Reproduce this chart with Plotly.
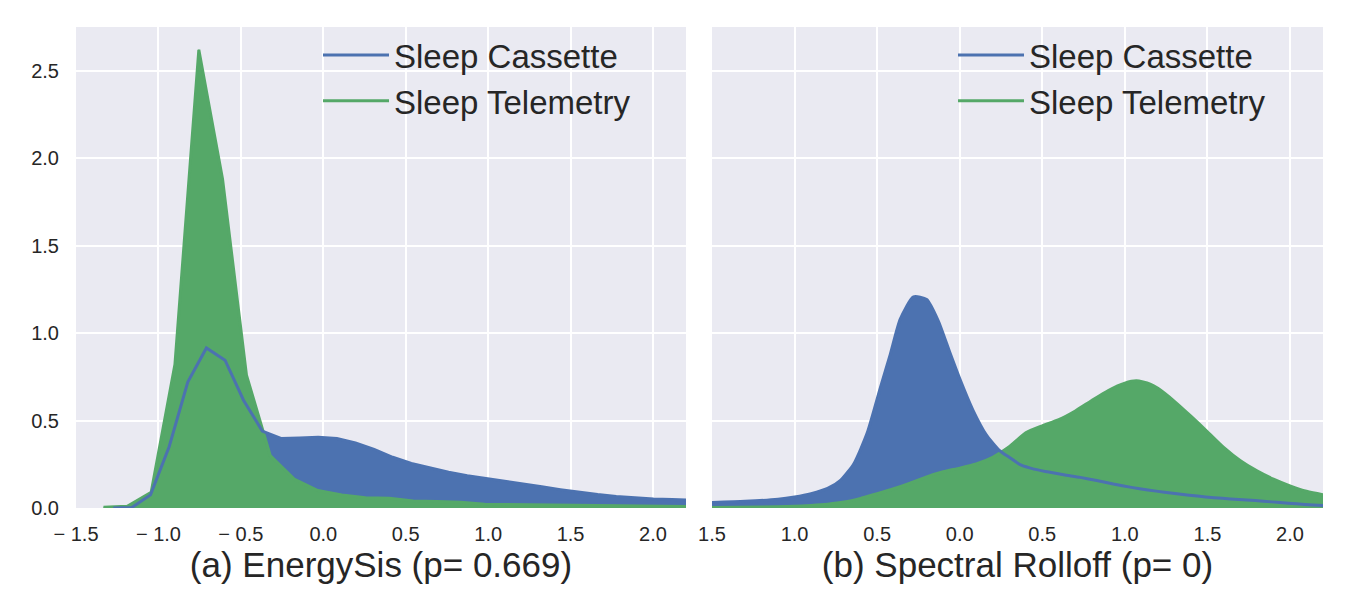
import plotly.graph_objects as go

# ---------------- data ----------------
series_names = ["Sleep Cassette", "Sleep Telemetry"]
panel_titles = ["(a) EnergySis (p= 0.669)", "(b) Spectral Rolloff (p= 0)"]

# panel (a) EnergySis
a_cassette_x = [-1.274, -1.161, -1.048, -0.935, -0.822, -0.709, -0.596, -0.483, -0.370,
                -0.257, -0.144, -0.031, 0.082, 0.195, 0.308, 0.421, 0.534, 0.647, 0.760,
                0.873, 0.986, 1.099, 1.212, 1.325, 1.438, 1.551, 1.664, 1.777, 1.890,
                2.003, 2.116, 2.229]
a_cassette_y = [0.0, 0.003, 0.075, 0.35, 0.72, 0.915, 0.845, 0.615, 0.44,
                0.398, 0.40, 0.404, 0.398, 0.372, 0.335, 0.29, 0.255, 0.228, 0.205,
                0.185, 0.168, 0.152, 0.137, 0.121, 0.105, 0.09, 0.077, 0.066, 0.058,
                0.052, 0.048, 0.045]
a_telemetry_x = [-1.333, -1.189, -1.044, -0.900, -0.755, -0.611, -0.466, -0.322, -0.177,
                 -0.033, 0.112, 0.256, 0.401, 0.545, 0.690, 0.834, 0.979, 1.123, 1.268,
                 1.412, 1.557, 1.701, 1.846, 1.990, 2.135, 2.279]
a_telemetry_y = [0.005, 0.01, 0.09, 0.82, 2.62, 1.88, 0.76, 0.30, 0.165,
                 0.10, 0.075, 0.058, 0.056, 0.04, 0.037, 0.033, 0.022, 0.02, 0.017,
                 0.015, 0.013, 0.011, 0.010, 0.009, 0.008, 0.007]

# panel (b) Spectral Rolloff
b_cassette_x = [-1.5, -1.3, -1.1, -1.0, -0.9, -0.8, -0.72, -0.64, -0.56, -0.48, -0.42,
                -0.36, -0.28, -0.20, -0.13, -0.06, 0.0, 0.08, 0.16, 0.24, 0.30, 0.37,
                0.45, 0.53, 0.63, 0.73, 0.83, 0.93, 1.04, 1.14, 1.24, 1.34, 1.44, 1.54,
                1.64, 1.74, 1.84, 1.94, 2.04, 2.14, 2.24]
b_cassette_y = [0.032, 0.038, 0.05, 0.063, 0.082, 0.112, 0.16, 0.255, 0.43, 0.69, 0.88,
                1.08, 1.207, 1.192, 1.07, 0.89, 0.74, 0.56, 0.42, 0.33, 0.29, 0.246,
                0.222, 0.207, 0.19, 0.175, 0.157, 0.137, 0.118, 0.103, 0.09, 0.078, 0.068,
                0.059, 0.052, 0.046, 0.039, 0.031, 0.024, 0.017, 0.012]
b_telemetry_x = [-1.5, -1.2, -1.0, -0.9, -0.8, -0.7, -0.6, -0.5, -0.4, -0.3, -0.2, -0.1,
                 0.0, 0.1, 0.2, 0.3, 0.4, 0.5, 0.6, 0.7, 0.8, 0.9, 1.0, 1.07, 1.15, 1.2,
                 1.3, 1.4, 1.5, 1.6, 1.7, 1.8, 1.9, 2.0, 2.1, 2.2, 2.3]
b_telemetry_y = [0.003, 0.006, 0.01, 0.015, 0.022, 0.034, 0.055, 0.082, 0.11, 0.142,
                 0.178, 0.207, 0.228, 0.252, 0.29, 0.35, 0.43, 0.47, 0.505, 0.555, 0.615,
                 0.672, 0.714, 0.727, 0.71, 0.684, 0.61, 0.525, 0.436, 0.345, 0.27, 0.212,
                 0.165, 0.127, 0.096, 0.076, 0.06]

x_tickvals = [-1.5, -1.0, -0.5, 0.0, 0.5, 1.0, 1.5, 2.0]
a_ticktext = ["\u2212 1.5", "\u2212 1.0", "\u2212 0.5", "0.0", "0.5", "1.0", "1.5", "2.0"]
b_ticktext = ["1.5", "1.0", "0.5", "0.0", "0.5", "1.0", "1.5", "2.0"]
y_tickvals = [0.0, 0.5, 1.0, 1.5, 2.0, 2.5]
y_ticktext = ["0.0", "0.5", "1.0", "1.5", "2.0", "2.5"]

# ---------------- style ----------------
BLUE = "#4C72B0"
GREEN = "#55A868"
BG = "#EAEAF2"
TXT = "#262626"
FONT = "Liberation Sans, Arial, sans-serif"

fig = go.Figure()

panels = [
    ("x", "y", "legend", "linear", a_cassette_x, a_cassette_y, a_telemetry_x, a_telemetry_y),
    ("x2", "y2", "legend2", "spline", b_cassette_x, b_cassette_y, b_telemetry_x, b_telemetry_y),
]
for xa, ya, lg, shp, cx, cy, tx, ty in panels:
    # blue fill (bottom)
    fig.add_trace(go.Scatter(x=cx, y=cy, xaxis=xa, yaxis=ya, mode="lines",
                             fill="tozeroy", fillcolor=BLUE,
                             line=dict(color=BLUE, width=0, shape=shp, smoothing=0.6),
                             showlegend=False, hoverinfo="skip"))
    # green fill with its line
    fig.add_trace(go.Scatter(x=tx, y=ty, xaxis=xa, yaxis=ya, mode="lines",
                             fill="tozeroy", fillcolor=GREEN,
                             line=dict(color=GREEN, width=1, shape=shp, smoothing=0.6),
                             showlegend=False, hoverinfo="skip"))
    # green legend line
    fig.add_trace(go.Scatter(x=tx, y=ty, xaxis=xa, yaxis=ya, mode="lines",
                             name=series_names[1], legend=lg, legendrank=2,
                             line=dict(color=GREEN, width=3, shape=shp, smoothing=0.6)))
    # blue line on top
    fig.add_trace(go.Scatter(x=cx, y=cy, xaxis=xa, yaxis=ya, mode="lines",
                             name=series_names[0], legend=lg, legendrank=1,
                             line=dict(color=BLUE, width=3, shape=shp, smoothing=0.6)))

axis_common = dict(
    range=[-1.5, 2.2], tickvals=x_tickvals, showgrid=True, gridcolor="white",
    gridwidth=2, zeroline=False, showline=False, ticks="", ticklabelstandoff=12,
    tickfont=dict(family=FONT, size=20, color=TXT),
)
yaxis_common = dict(
    range=[0, 2.75], tickvals=y_tickvals, showgrid=True, gridcolor="white",
    gridwidth=2, zeroline=False, showline=False, ticks="",
)

LEFT_END = (686 - 76) / 1247
RIGHT_START = (712 - 76) / 1247

title_font = dict(family=FONT, size=35, color=TXT)
legend_font = dict(family=FONT, size=33, color=TXT)

fig.update_layout(
    width=1350, height=600,
    margin=dict(l=76, r=27, t=27, b=92),
    paper_bgcolor="white", plot_bgcolor=BG,
    font=dict(family=FONT, color=TXT),
    xaxis=dict(domain=[0, LEFT_END], ticktext=a_ticktext,
               title=dict(text=panel_titles[0], font=title_font, standoff=6),
               **axis_common),
    xaxis2=dict(domain=[RIGHT_START, 1], anchor="y2", ticktext=b_ticktext,
                title=dict(text=panel_titles[1], font=title_font, standoff=6),
                **axis_common),
    yaxis=dict(domain=[0, 1], ticktext=y_ticktext, ticklabelstandoff=16,
               tickfont=dict(family=FONT, size=20, color=TXT), **yaxis_common),
    yaxis2=dict(domain=[0, 1], anchor="x2", showticklabels=False, **yaxis_common),
    legend=dict(x=(318 - 76) / 1247, y=1 - (27 - 27) / 481, xanchor="left", yanchor="top",
                bgcolor="rgba(0,0,0,0)", itemwidth=66, font=legend_font),
    legend2=dict(x=(953 - 76) / 1247, y=1 - (27 - 27) / 481, xanchor="left", yanchor="top",
                 bgcolor="rgba(0,0,0,0)", itemwidth=66, font=legend_font),
    showlegend=True,
)

fig.write_html("out.html")
